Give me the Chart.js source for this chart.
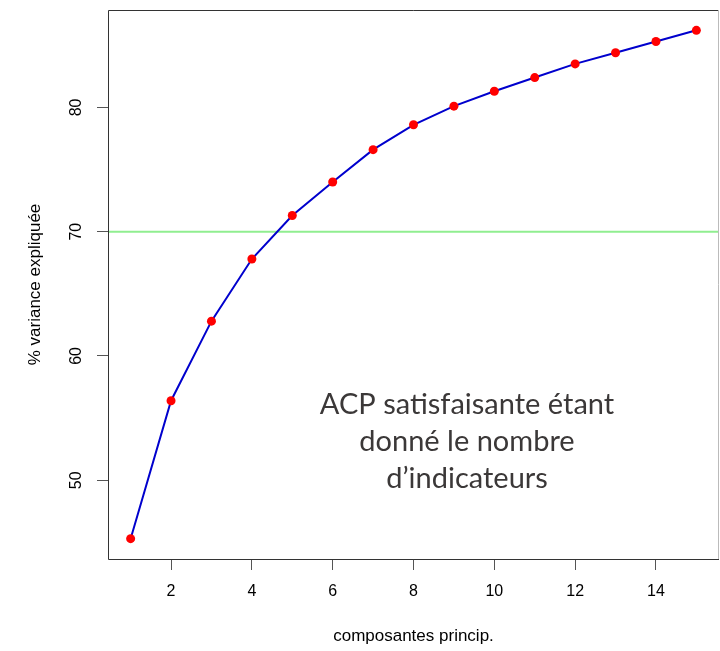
<!DOCTYPE html>
<html>
<head>
<meta charset="utf-8">
<script src="https://cdn.jsdelivr.net/npm/chart.js@4"></script>
<style>
  html, body { margin: 0; padding: 0; background: #fff; }
  #wrap { width: 720px; height: 651px; }
</style>
</head>
<body>
<div id="wrap"><canvas id="acpChart" width="720" height="651"></canvas></div>
<script>
const components = [1, 2, 3, 4, 5, 6, 7, 8, 9, 10, 11, 12, 13, 14, 15];
const cumVariance = [45.3, 56.4, 62.8, 67.8, 71.3, 74.0, 76.6, 78.6, 80.1, 81.3, 82.4, 83.5, 84.4, 85.3, 86.2];
const xTickValues = [2, 4, 6, 8, 10, 12, 14];
const yTickValues = [50, 60, 70, 80];
const threshold = 70;
const xTitle = "composantes princip.";
const yTitle = "% variance expliquée";
const noteLines = ["ACP satisfaisante étant", "donné le nombre", "d\u2019indicateurs"];

// R-style axis extension (4% on each side)
function rRange(vals) {
    const lo = Math.min(...vals), hi = Math.max(...vals);
    const ext = (hi - lo) * 0.04;
    return [lo - ext, hi + ext];
}
const [xMin, xMax] = rRange(components);
const [yMin, yMax] = rRange(cumVariance);

const axisFont = "'Liberation Sans', Arial, sans-serif";

// keep chart area exactly where R put the plot box
function noPad(s) {
    s.paddingLeft = 0;
    s.paddingRight = 0;
    s.paddingTop = 0;
    s.paddingBottom = 0;
}

// draws box, threshold line, y labels, titles and the note
const decorPlugin = {
    id: "decor",
    beforeDatasetsDraw(chart) {
        const { ctx, chartArea: a, scales } = chart;
        const y70 = scales.y.getPixelForValue(threshold);
        ctx.save();
        ctx.strokeStyle = "#90ee90";
        ctx.lineWidth = 2;
        ctx.beginPath();
        ctx.moveTo(a.left, y70);
        ctx.lineTo(a.right, y70);
        ctx.stroke();
        ctx.restore();
    },
    afterDraw(chart) {
        const { ctx, chartArea: a, scales } = chart;
        ctx.save();
        // plot box
        ctx.strokeStyle = "#333";
        ctx.lineWidth = 1;
        ctx.beginPath();
        ctx.moveTo(a.right, a.top + 0.5);
        ctx.lineTo(a.left + 0.5, a.top + 0.5);
        ctx.lineTo(a.left + 0.5, a.bottom + 0.5);
        ctx.lineTo(a.right, a.bottom + 0.5);
        ctx.stroke();
        ctx.strokeStyle = "#bbb";
        ctx.beginPath();
        ctx.moveTo(a.right - 0.5, a.top);
        ctx.lineTo(a.right - 0.5, a.bottom);
        ctx.stroke();

        // y tick labels, rotated like R
        ctx.fillStyle = "#000";
        ctx.font = "16px " + axisFont;
        ctx.textAlign = "center";
        ctx.textBaseline = "middle";
        yTickValues.forEach(v => {
            const py = scales.y.getPixelForValue(v);
            ctx.save();
            ctx.translate(77, py);
            ctx.rotate(-Math.PI / 2);
            ctx.fillText(String(v), 0, 0);
            ctx.restore();
        });

        // axis titles
        ctx.font = "17px " + axisFont;
        ctx.fillText(xTitle, (a.left + a.right) / 2, 636);
        ctx.save();
        ctx.translate(35, (a.top + a.bottom) / 2);
        ctx.rotate(-Math.PI / 2);
        ctx.fillText(yTitle, 0, 0);
        ctx.restore();

        // annotation
        ctx.fillStyle = "#3b3838";
        ctx.font = "29px Lato, 'Open Sans', sans-serif";
        ctx.textBaseline = "alphabetic";
        noteLines.forEach((t, i) => {
            ctx.fillText(t, 467, 414 + i * 37);
        });
        ctx.restore();
    }
};

const ctx = document.getElementById("acpChart").getContext("2d");
new Chart(ctx, {
    type: "line",
    data: {
        datasets: [{
            data: components.map((c, i) => ({ x: c, y: cumVariance[i] })),
            borderColor: "#0000cd",
            borderWidth: 2,
            pointBackgroundColor: "#ff0000",
            pointBorderWidth: 0,
            pointRadius: 4.5,
            tension: 0,
            fill: false
        }]
    },
    options: {
        responsive: false,
        animation: false,
        layout: { autoPadding: false, padding: { left: 0, right: 1, top: 10, bottom: 0 } },
        plugins: { legend: { display: false }, tooltip: { enabled: false } },
        scales: {
            x: {
                type: "linear",
                min: xMin,
                max: xMax,
                afterBuildTicks: s => { s.ticks = xTickValues.map(v => ({ value: v })); },
                afterFit: s => { s.height = 92; noPad(s); },
                grid: { drawOnChartArea: false, drawTicks: true, tickLength: 11, tickColor: "#555" },
                border: { display: false },
                ticks: {
                    color: "#000",
                    font: { size: 16, family: axisFont },
                    padding: 12,
                    maxRotation: 0
                }
            },
            y: {
                type: "linear",
                min: yMin,
                max: yMax,
                afterBuildTicks: s => { s.ticks = yTickValues.map(v => ({ value: v })); },
                afterFit: s => { s.width = 108; noPad(s); },
                grid: { drawOnChartArea: false, drawTicks: true, tickLength: 11, tickColor: "#555" },
                border: { display: false },
                ticks: { color: "rgba(0,0,0,0)", font: { size: 16, family: axisFont } }
            }
        }
    },
    plugins: [decorPlugin]
});
</script>
</body>
</html>
